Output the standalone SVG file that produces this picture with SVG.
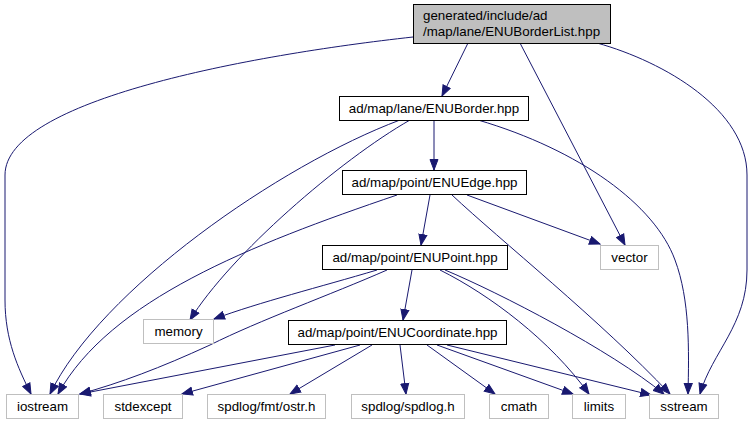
<svg xmlns="http://www.w3.org/2000/svg" width="752" height="425" viewBox="0 0 752 425">
<style>
  .node rect { stroke-width: 1; }
  .proj rect { fill: #ffffff; stroke: #000000; }
  .main rect { fill: #bfbfbf; stroke: #000000; }
  .sys rect { fill: #ffffff; stroke: #bfbfbf; }
  text { font-family: "Liberation Sans", Arial, Helvetica, sans-serif; font-size: 13.33px; fill: #000000; }
  .c { text-anchor: middle; }
  #edges path { fill: none; stroke: #191970; stroke-width: 1; marker-end: url(#arrow); }
</style>
<defs>
  <marker id="arrow" markerUnits="userSpaceOnUse" markerWidth="12" markerHeight="10" refX="11" refY="5" orient="auto">
    <path d="M0.5,1 L11,5 L0.5,9 Z" fill="#191970" stroke="#191970" stroke-width="1"/>
  </marker>
</defs>
<rect width="752" height="425" fill="#ffffff"/>
<g id="edges">
  <path d="M468,43 L442,96"/>
  <path d="M413,37 C250,55 5,100 5,175 L5,300 C5,340 18,368 31,394"/>
  <path d="M520,43 L625,245"/>
  <path d="M597,43 C665,62 747,110 747,175 L747,270 C747,325 712,352 700,394"/>
  <path d="M434,120 L434,170"/>
  <path d="M400,120 C280,165 100,290 50,394"/>
  <path d="M410,120 C340,160 230,255 190,320"/>
  <path d="M478,120 C580,150 655,205 675,260 C690,300 689,350 688,394"/>
  <path d="M430,195 L421,245"/>
  <path d="M397,195 C250,245 110,300 58,394"/>
  <path d="M467,195 L600,244"/>
  <path d="M452,195 C500,240 600,320 670,394"/>
  <path d="M377,270 C320,287 260,302 214,319"/>
  <path d="M387,270 C330,295 260,320 210,345 C160,368 120,383 80,394"/>
  <path d="M412,270 L403,320"/>
  <path d="M440,270 C490,295 550,340 589,394"/>
  <path d="M445,270 C500,293 610,350 664,394"/>
  <path d="M335,345 L80,394"/>
  <path d="M360,345 L182,394"/>
  <path d="M372,345 L290,394"/>
  <path d="M400,345 L406,394"/>
  <path d="M427,345 L495,394"/>
  <path d="M437,345 L573,394"/>
  <path d="M447,345 L651,395"/>
</g>
<g id="node-enuborderlist" class="node main">
  <rect x="413.5" y="4.5" width="197" height="39"/>
  <text x="423" y="20">generated/include/ad</text>
  <text x="423" y="36">/map/lane/ENUBorderList.hpp</text>
</g>
<g id="node-enuborder" class="node proj">
  <rect x="339.5" y="96.5" width="189" height="24"/>
  <text class="c" x="434" y="113">ad/map/lane/ENUBorder.hpp</text>
</g>
<g id="node-enuedge" class="node proj">
  <rect x="342.5" y="170.5" width="184" height="24"/>
  <text class="c" x="434.5" y="187">ad/map/point/ENUEdge.hpp</text>
</g>
<g id="node-enupoint" class="node proj">
  <rect x="322.5" y="245.5" width="185" height="24"/>
  <text class="c" x="415" y="262">ad/map/point/ENUPoint.hpp</text>
</g>
<g id="node-enucoordinate" class="node proj">
  <rect x="288.5" y="320.5" width="218" height="24"/>
  <text class="c" x="397.5" y="337">ad/map/point/ENUCoordinate.hpp</text>
</g>
<g id="node-memory" class="node sys">
  <rect x="143.5" y="319.5" width="70" height="24"/>
  <text class="c" x="178.5" y="336">memory</text>
</g>
<g id="node-vector" class="node sys">
  <rect x="600.5" y="245.5" width="58" height="24"/>
  <text class="c" x="629.5" y="262">vector</text>
</g>
<g id="node-iostream" class="node sys">
  <rect x="6.5" y="394.5" width="72" height="24"/>
  <text class="c" x="42.5" y="411">iostream</text>
</g>
<g id="node-stdexcept" class="node sys">
  <rect x="103.5" y="394.5" width="79" height="24"/>
  <text class="c" x="143" y="411">stdexcept</text>
</g>
<g id="node-ostr" class="node sys">
  <rect x="207.5" y="394.5" width="118" height="24"/>
  <text class="c" x="266.5" y="411">spdlog/fmt/ostr.h</text>
</g>
<g id="node-spdlog" class="node sys">
  <rect x="351.5" y="394.5" width="113" height="24"/>
  <text class="c" x="408" y="411">spdlog/spdlog.h</text>
</g>
<g id="node-cmath" class="node sys">
  <rect x="489.5" y="394.5" width="59" height="24"/>
  <text class="c" x="519" y="411">cmath</text>
</g>
<g id="node-limits" class="node sys">
  <rect x="572.5" y="394.5" width="53" height="24"/>
  <text class="c" x="599" y="411">limits</text>
</g>
<g id="node-sstream" class="node sys">
  <rect x="649.5" y="394.5" width="69" height="24"/>
  <text class="c" x="684" y="411">sstream</text>
</g>
</svg>
